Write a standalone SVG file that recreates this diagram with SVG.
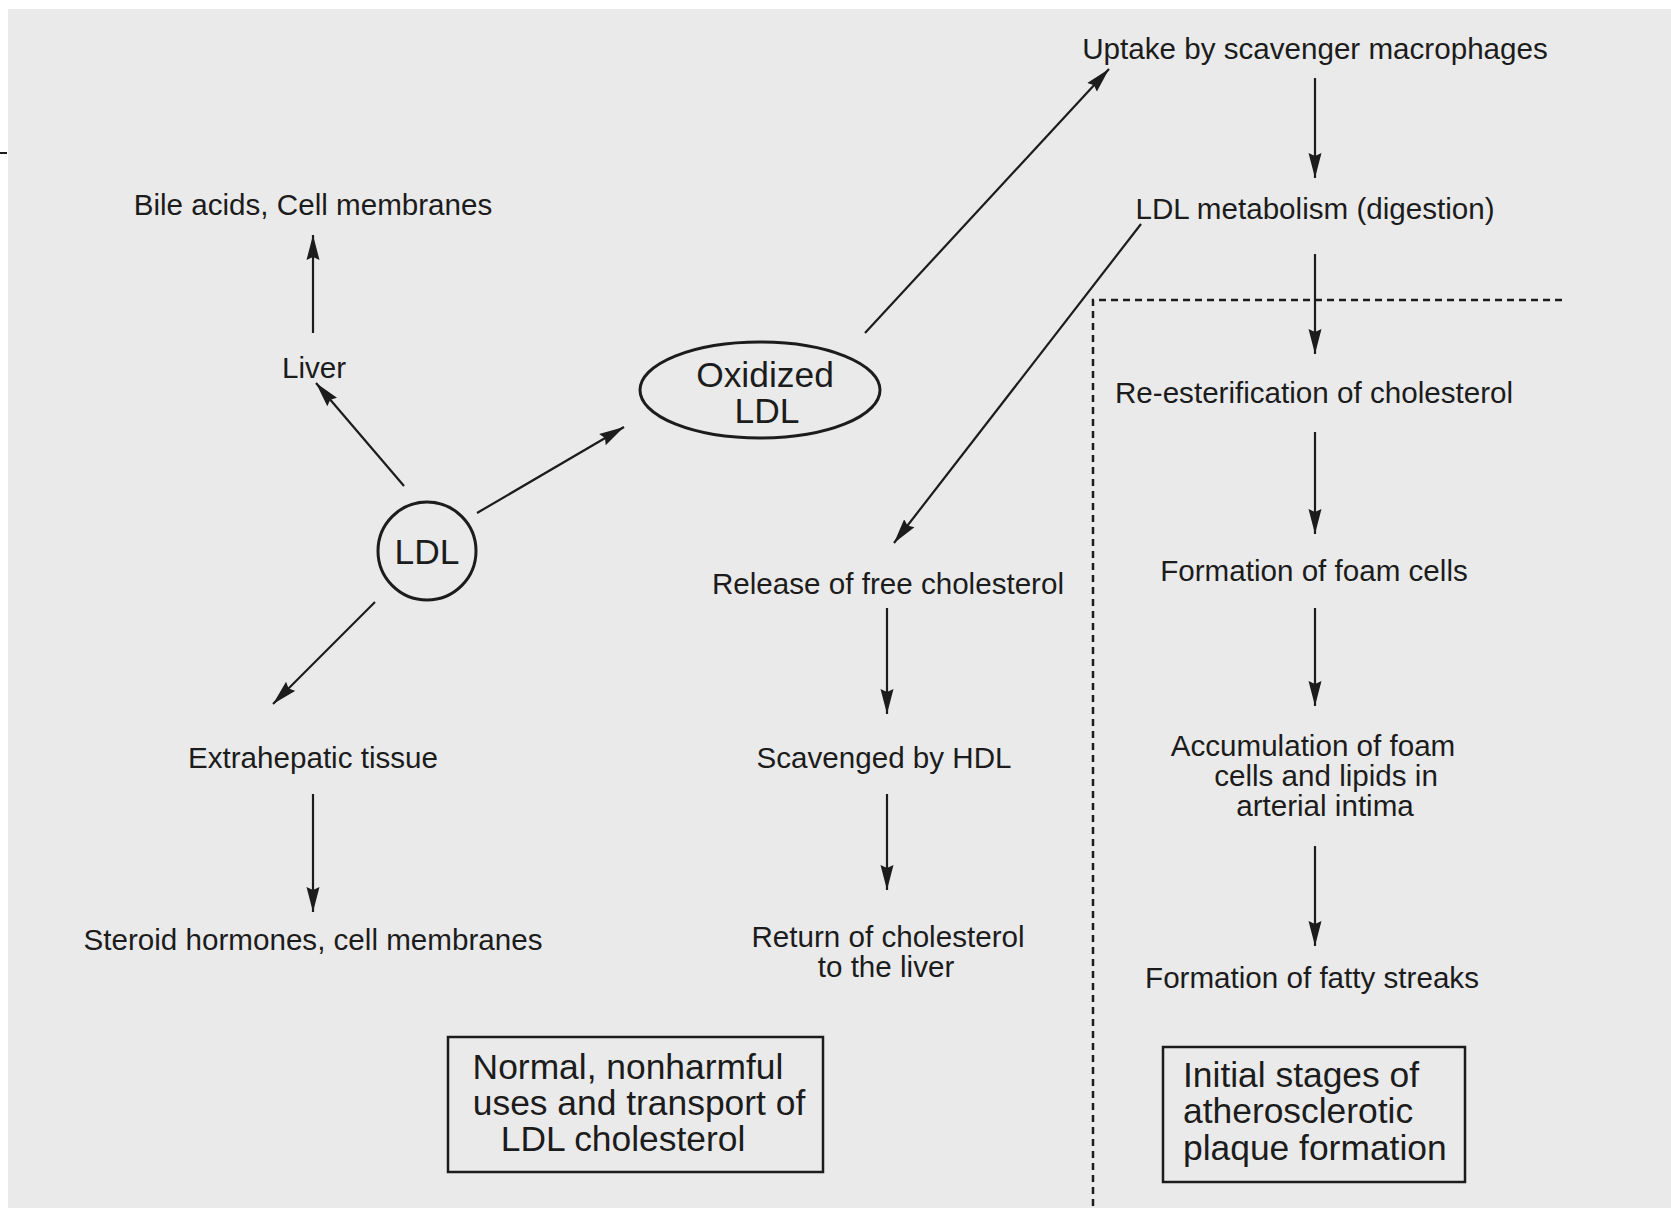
<svg xmlns="http://www.w3.org/2000/svg" width="1671" height="1208" viewBox="0 0 1671 1208">
<style>
text{font-family:"Liberation Sans",Arial,sans-serif;fill:#1c1c1c}
.s{font-size:29.6px}
.b{font-size:35.4px}
.m{text-anchor:middle}
.ln{stroke:#1c1c1c;stroke-width:2.2;fill:none}
.sh{stroke:#1c1c1c;stroke-width:3;fill:none}
.dash{stroke:#1c1c1c;stroke-width:2.5;fill:none;stroke-dasharray:7 5}
</style>
<defs>
<marker id="ah" markerWidth="26" markerHeight="14" refX="25" refY="7" orient="auto" markerUnits="userSpaceOnUse">
<path d="M0,0.5 L25,7 L0,13.5 L3,7 z" fill="#1c1c1c"/>
</marker>
</defs>
<rect x="0" y="0" width="1671" height="1208" fill="#ffffff"/>
<rect x="8" y="9" width="1663" height="1199" fill="#eaeaea"/>
<line x1="0" y1="153" x2="7" y2="153" stroke="#1c1c1c" stroke-width="2"/>

<g id="connectors">
<line class="ln" x1="313" y1="333" x2="313" y2="235" marker-end="url(#ah)"/>
<line class="ln" x1="404" y1="486" x2="316" y2="383" marker-end="url(#ah)"/>
<line class="ln" x1="477" y1="513" x2="624" y2="427" marker-end="url(#ah)"/>
<line class="ln" x1="375" y1="602" x2="273" y2="704" marker-end="url(#ah)"/>
<line class="ln" x1="313" y1="794" x2="313" y2="912" marker-end="url(#ah)"/>
<line class="ln" x1="865" y1="333" x2="1109" y2="69" marker-end="url(#ah)"/>
<line class="ln" x1="1141" y1="224" x2="894" y2="543" marker-end="url(#ah)"/>
<line class="ln" x1="887" y1="608" x2="887" y2="714" marker-end="url(#ah)"/>
<line class="ln" x1="887" y1="794" x2="887" y2="890" marker-end="url(#ah)"/>
<line class="ln" x1="1315" y1="78" x2="1315" y2="178" marker-end="url(#ah)"/>
<line class="ln" x1="1315" y1="254" x2="1315" y2="354" marker-end="url(#ah)"/>
<line class="ln" x1="1315" y1="432" x2="1315" y2="534" marker-end="url(#ah)"/>
<line class="ln" x1="1315" y1="608" x2="1315" y2="706" marker-end="url(#ah)"/>
<line class="ln" x1="1315" y1="846" x2="1315" y2="946" marker-end="url(#ah)"/>
</g>

<g id="divider">
<polyline class="dash" points="1562,300 1093,300 1093,1208"/>
</g>

<g id="bile"><text class="s m" x="313" y="215">Bile acids, Cell membranes</text></g>
<g id="liver"><text class="s m" x="314" y="378">Liver</text></g>
<g id="oxidized-ldl">
<ellipse class="sh" cx="760" cy="390" rx="120" ry="48"/>
<text class="b m" x="765" y="387">Oxidized</text>
<text class="b m" x="767" y="423">LDL</text>
</g>
<g id="ldl">
<circle class="sh" cx="427" cy="551" r="49"/>
<text class="b m" x="427" y="564">LDL</text>
</g>
<g id="extrahepatic"><text class="s m" x="313" y="768">Extrahepatic tissue</text></g>
<g id="steroid"><text class="s m" x="313" y="950">Steroid hormones, cell membranes</text></g>
<g id="release"><text class="s m" x="888" y="594">Release of free cholesterol</text></g>
<g id="scavenged"><text class="s m" x="884" y="768">Scavenged by HDL</text></g>
<g id="return">
<text class="s m" x="888" y="947">Return of cholesterol</text>
<text class="s m" x="886" y="977">to the liver</text>
</g>
<g id="normal-box">
<rect x="448" y="1037" width="375" height="135" fill="none" stroke="#1c1c1c" stroke-width="2.5"/>
<text class="b m" x="628" y="1079">Normal, nonharmful</text>
<text class="b m" x="639" y="1115">uses and transport of</text>
<text class="b m" x="623" y="1151">LDL cholesterol</text>
</g>
<g id="uptake"><text class="s m" x="1315" y="59">Uptake by scavenger macrophages</text></g>
<g id="ldl-metabolism"><text class="s m" x="1315" y="219">LDL metabolism (digestion)</text></g>
<g id="reesterification"><text class="s m" x="1314" y="403">Re-esterification of cholesterol</text></g>
<g id="foam"><text class="s m" x="1314" y="581">Formation of foam cells</text></g>
<g id="accumulation">
<text class="s m" x="1313" y="756">Accumulation of foam</text>
<text class="s m" x="1326" y="786">cells and lipids in</text>
<text class="s m" x="1325" y="816">arterial intima</text>
</g>
<g id="fatty"><text class="s m" x="1312" y="988">Formation of fatty streaks</text></g>
<g id="initial-box">
<rect x="1163" y="1047" width="302" height="135" fill="none" stroke="#1c1c1c" stroke-width="2.5"/>
<text class="b" x="1183" y="1087">Initial stages of</text>
<text class="b" x="1183" y="1123">atherosclerotic</text>
<text class="b" x="1183" y="1160">plaque formation</text>
</g>
</svg>
